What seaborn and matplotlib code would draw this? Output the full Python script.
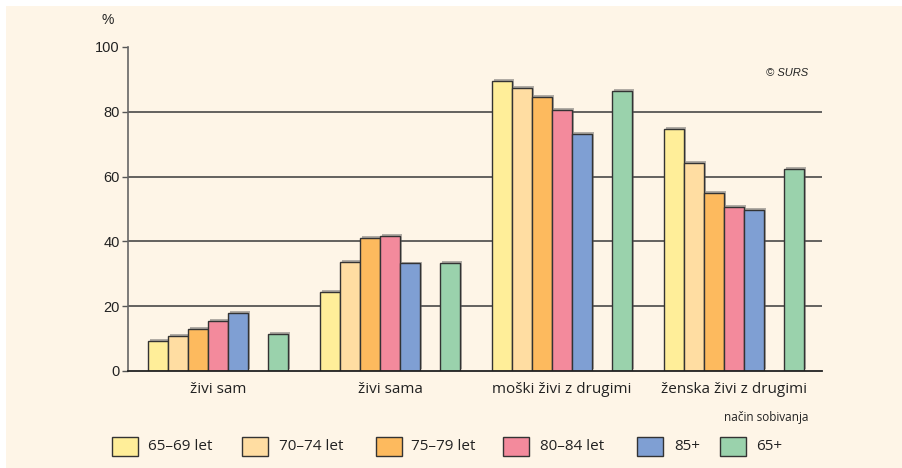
import matplotlib
matplotlib.use("Agg")
import matplotlib.pyplot as plt
import matplotlib.patheffects as pe
from matplotlib.patches import Rectangle
import numpy as np
import pandas as pd
import seaborn as sns

categories = ["živi sam", "živi sama", "moški živi z drugimi", "ženska živi z drugimi"]
series_names = ["65–69 let", "70–74 let", "75–79 let", "80–84 let", "85+", "65+"]
v_65_69 = [9.3, 24.4, 89.5, 74.7]
v_70_74 = [10.8, 33.6, 87.3, 64.2]
v_75_79 = [13.0, 41.0, 84.6, 54.9]
v_80_84 = [15.4, 41.7, 80.6, 50.6]
v_85 = [17.9, 33.2, 73.1, 49.7]
v_65plus = [11.4, 33.3, 86.4, 62.3]
colors = ["#FFEE99", "#FFDDA2", "#FDBA5E", "#F38A9C", "#7F9FD3", "#9AD2AC"]
yticks = [0, 20, 40, 60, 80, 100]

values = [v_65_69, v_70_74, v_75_79, v_80_84, v_85, v_65plus]
rows = []
for name, vals in zip(series_names, values):
    for c, v in zip(categories, vals):
        rows.append({"cat": c, "series": name, "val": v})
df = pd.DataFrame(rows)

gap = " "
hue_order = series_names[:5] + [gap] + series_names[5:]
palette = dict(zip(series_names, colors))
palette[gap] = "#FFFFFF"

W, H = 902, 468
fig = plt.figure(figsize=(W / 100, H / 100), dpi=100, facecolor="white")
fig.patches.append(Rectangle((6 / W, 0), 1 - 6 / W, 1 - 6 / H, transform=fig.transFigure,
                             facecolor="#FEF5E7", edgecolor="none", zorder=-10))

ax = fig.add_axes([128 / W, (H - 371) / H, (822 - 128) / W, (371 - 47) / H])
ax.set_facecolor("none")

sns.barplot(data=df, x="cat", y="val", hue="series", hue_order=hue_order, order=categories,
            palette=palette, width=0.81, edgecolor="#333333", linewidth=1.0,
            saturation=1, legend=False, ax=ax, zorder=3)

shadow = [pe.SimplePatchShadow(offset=(1.5, 1.2), shadow_rgbFace="#555555", alpha=0.45), pe.Normal()]
for p in ax.patches:
    p.set_path_effects(shadow)

ax.set_xlim(-0.523, 3.512)
ax.set_ylim(0, 100)
ax.set_yticks(yticks)
ax.set_yticklabels([str(t) for t in yticks], fontsize=10.5, family="Liberation Sans", color="#222222")
for t in yticks[1:-1]:
    ax.axhline(t, color="#3a3a3a", lw=1.1, zorder=1)
ax.tick_params(axis="y", length=4.5, width=1, color="#555555", pad=1.5)
ax.tick_params(axis="x", length=0, pad=8)
ax.set_xticklabels(categories, fontsize=11, family="Open Sans", color="#222222")
for s in ["top", "right"]:
    ax.spines[s].set_visible(False)
ax.spines["left"].set_color("#666666")
ax.spines["left"].set_linewidth(1.2)
ax.spines["bottom"].set_color("#222222")
ax.spines["bottom"].set_linewidth(1.3)
ax.spines["bottom"].set_zorder(5)
ax.set_xlabel("")
ax.set_ylabel("")

def fx(x):
    return x / W

def fy(y):
    return 1 - y / H

fig.text(fx(108), fy(20), "%", fontsize=10, family="Liberation Sans", ha="center", va="center", color="#222222")
fig.text(fx(808), fy(73), "© SURS", fontsize=8, family="Liberation Sans", style="italic",
         ha="right", va="center", color="#222222")
fig.text(fx(808), fy(418), "način sobivanja", fontsize=8.5, family="Open Sans", ha="right",
         va="center", color="#222222")

box_x = [112, 242, 376, 503, 637, 720]
text_x = [148, 279, 411, 540, 674, 756]
for bx, tx, name, col in zip(box_x, text_x, series_names, colors):
    fig.patches.append(Rectangle((fx(bx), fy(456)), 26 / W, 19 / H, transform=fig.transFigure,
                                 facecolor=col, edgecolor="#333333", lw=1.0))
    fig.text(fx(tx), fy(447), name, fontsize=11, family="Open Sans", ha="left", va="center",
             color="#222222")

fig.savefig("out.png", dpi=100, facecolor=fig.get_facecolor())
